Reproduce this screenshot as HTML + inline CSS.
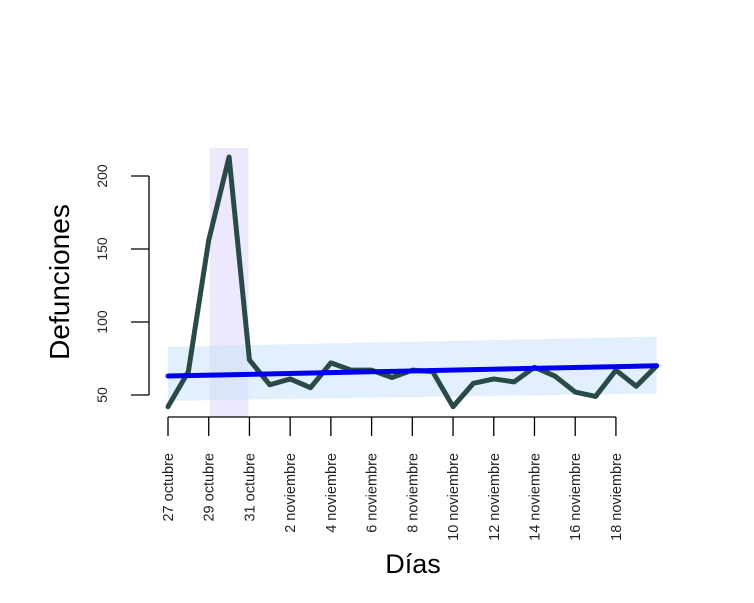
<!DOCTYPE html>
<html><head><meta charset="utf-8"><style>
html,body{margin:0;padding:0;background:#fff;}
svg{display:block;font-family:"Liberation Sans",Arial,sans-serif;}
</style></head><body>
<svg id="chart" width="754" height="603"></svg>
<script>
const days = ["27 oct","28 oct","29 oct","30 oct","31 oct","1 nov","2 nov","3 nov","4 nov","5 nov","6 nov","7 nov","8 nov","9 nov","10 nov","11 nov","12 nov","13 nov","14 nov","15 nov","16 nov","17 nov","18 nov","19 nov","20 nov"];
const deaths = [42,66,156,213,74,57,61,55,72,67,67,62,67,66,42,58,61,59,69,63,52,49,67,56,70];
const trendStart = 63, trendEnd = 70;
const bandLow = [46,51], bandHigh = [83,90];
const xTickLabels = ["27 octubre","29 octubre","31 octubre","2 noviembre","4 noviembre","6 noviembre","8 noviembre","10 noviembre","12 noviembre","14 noviembre","16 noviembre","18 noviembre"];
const yTicks = [50,100,150,200];
const highlightRange = [2,4];

const NS="http://www.w3.org/2000/svg";
const svg=document.getElementById('chart');
function x(i){return 168+i*20.36;}
function y(v){return 395-(v-50)*1.46;}
function mk(t,a,p){const e=document.createElementNS(NS,t);for(const k in a)e.setAttribute(k,a[k]);(p||svg).appendChild(e);return e;}
const n=deaths.length-1;

let e=mk('rect',{x:x(highlightRange[0])+1,y:148,width:x(highlightRange[1])-x(highlightRange[0])-2,height:269,fill:'#ece6fd',opacity:0.9});



e=mk('polygon',{points:`${x(0)},${y(bandHigh[0])} ${x(n)},${y(bandHigh[1])} ${x(n)},${y(bandLow[1])} ${x(0)},${y(bandLow[0])}`,fill:'#c4e2fa',opacity:0.5});



e=mk('polyline',{points:deaths.map((v,i)=>x(i)+','+y(v)).join(' '),fill:'none',stroke:'#2a4a48','stroke-width':5,'stroke-linejoin':'round','stroke-linecap':'round'});



e=mk('line',{x1:x(0),y1:y(trendStart),x2:x(n),y2:y(trendEnd),stroke:'#0000ee','stroke-width':5,'stroke-linecap':'round'});



// y axis
e=mk('line',{x1:149,y1:y(yTicks[0]),x2:149,y2:y(yTicks[yTicks.length-1]),stroke:'#000','stroke-width':1.3});


yTicks.forEach(v=>{
  mk('line',{x1:131,y1:y(v),x2:149,y2:y(v),stroke:'#000','stroke-width':1.3});
  const t=mk('text',{x:0,y:0,transform:`translate(107,${y(v)}) rotate(-90)`,'text-anchor':'middle','font-size':14,fill:'#222'});
  t.textContent=v;
  
  
});

// x axis
e=mk('line',{x1:x(0),y1:417,x2:x(xTickLabels.length*2-2),y2:417,stroke:'#000','stroke-width':1.3});


xTickLabels.forEach((l,k)=>{
  const xi=x(k*2);
  mk('line',{x1:xi,y1:417,x2:xi,y2:436,stroke:'#000','stroke-width':1.3});
  const t=mk('text',{x:0,y:0,transform:`translate(${xi+5},453) rotate(-90)`,'text-anchor':'end','font-size':14.5,fill:'#222'});
  t.textContent=l;
  
  
});

e=mk('text',{x:413,y:573,'text-anchor':'middle','font-size':27,fill:'#000'});
e.textContent='Días';



e=mk('text',{x:0,y:0,transform:'translate(69,282) rotate(-90)','text-anchor':'middle','font-size':28,fill:'#000'});
e.textContent='Defunciones';


</script>
</body></html>
